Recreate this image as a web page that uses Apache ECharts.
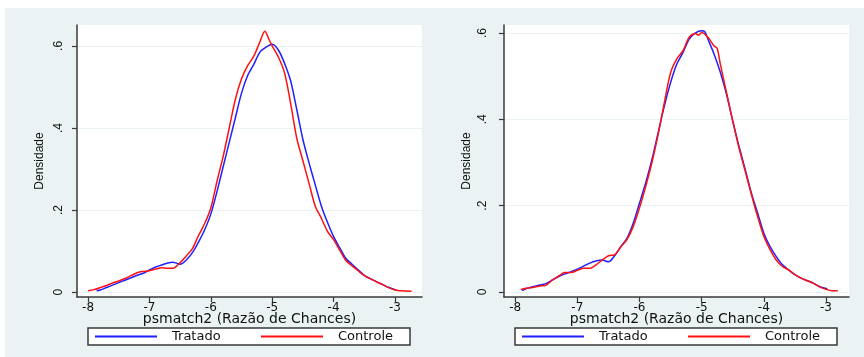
<!DOCTYPE html>
<html>
<head>
<meta charset="utf-8">
<script src="https://cdn.jsdelivr.net/npm/echarts@6/dist/echarts.min.js"></script>
<style>
html,body{margin:0;padding:0;background:#fff;}
#grafico{width:864px;height:357px;}
</style>
</head>
<body>
<div id="grafico"></div>
<script>
// densidade kernel - antes do pareamento (esquerda) e depois (direita)
var tratadoAntes = [[-7.86,0.003],[-7.8,0.005],[-7.7,0.011],[-7.6,0.017],[-7.5,0.023],[-7.4,0.029],[-7.3,0.035],[-7.2,0.041],[-7.1,0.046],[-7.0,0.054],[-6.9,0.061],[-6.8,0.066],[-6.7,0.071],[-6.62,0.073],[-6.55,0.07],[-6.5,0.068],[-6.4,0.078],[-6.3,0.096],[-6.2,0.122],[-6.1,0.152],[-6.0,0.19],[-5.9,0.245],[-5.8,0.305],[-5.7,0.365],[-5.6,0.425],[-5.5,0.485],[-5.4,0.528],[-5.3,0.555],[-5.2,0.585],[-5.1,0.597],[-5.0,0.604],[-4.9,0.59],[-4.8,0.558],[-4.7,0.515],[-4.6,0.445],[-4.5,0.372],[-4.4,0.315],[-4.3,0.262],[-4.2,0.21],[-4.1,0.17],[-4.0,0.135],[-3.9,0.108],[-3.8,0.082],[-3.7,0.068],[-3.6,0.054],[-3.5,0.041],[-3.4,0.033],[-3.3,0.025],[-3.2,0.018],[-3.1,0.011],[-3.0,0.006],[-2.97,0.004]];
var controleAntes = [[-8.0,0.003],[-7.9,0.006],[-7.8,0.011],[-7.7,0.016],[-7.6,0.022],[-7.5,0.027],[-7.4,0.033],[-7.3,0.04],[-7.2,0.047],[-7.12,0.05],[-7.0,0.052],[-6.9,0.056],[-6.8,0.059],[-6.7,0.058],[-6.62,0.058],[-6.5,0.072],[-6.4,0.088],[-6.3,0.106],[-6.2,0.138],[-6.1,0.167],[-6.0,0.205],[-5.9,0.27],[-5.8,0.33],[-5.7,0.40],[-5.6,0.47],[-5.5,0.52],[-5.4,0.552],[-5.3,0.575],[-5.2,0.61],[-5.12,0.636],[-5.05,0.615],[-5.0,0.6],[-4.9,0.573],[-4.8,0.535],[-4.7,0.46],[-4.6,0.375],[-4.5,0.32],[-4.4,0.265],[-4.3,0.21],[-4.2,0.18],[-4.1,0.148],[-4.0,0.128],[-3.9,0.102],[-3.8,0.077],[-3.7,0.064],[-3.6,0.052],[-3.5,0.04],[-3.4,0.032],[-3.3,0.025],[-3.2,0.018],[-3.1,0.011],[-3.0,0.005],[-2.9,0.003],[-2.73,0.002]];
var tratadoDepois = [[-7.89,0.003],[-7.8,0.009],[-7.7,0.013],[-7.6,0.016],[-7.5,0.02],[-7.4,0.028],[-7.3,0.036],[-7.2,0.042],[-7.1,0.047],[-7.0,0.053],[-6.9,0.06],[-6.8,0.067],[-6.7,0.072],[-6.6,0.074],[-6.5,0.07],[-6.4,0.084],[-6.3,0.105],[-6.2,0.125],[-6.1,0.16],[-6.0,0.206],[-5.9,0.253],[-5.8,0.307],[-5.7,0.369],[-5.6,0.431],[-5.5,0.485],[-5.4,0.528],[-5.3,0.555],[-5.2,0.586],[-5.1,0.6],[-5.0,0.605],[-4.95,0.603],[-4.9,0.586],[-4.8,0.551],[-4.7,0.509],[-4.6,0.458],[-4.5,0.396],[-4.4,0.338],[-4.3,0.284],[-4.2,0.229],[-4.1,0.183],[-4.0,0.136],[-3.9,0.105],[-3.8,0.082],[-3.7,0.063],[-3.6,0.051],[-3.5,0.04],[-3.4,0.032],[-3.3,0.026],[-3.2,0.02],[-3.1,0.012],[-3.0,0.008],[-2.98,0.006]];
var controleDepois = [[-7.91,0.006],[-7.8,0.009],[-7.7,0.011],[-7.6,0.014],[-7.5,0.016],[-7.4,0.028],[-7.3,0.037],[-7.2,0.045],[-7.1,0.045],[-7.0,0.05],[-6.9,0.055],[-6.8,0.055],[-6.7,0.063],[-6.6,0.074],[-6.5,0.084],[-6.4,0.086],[-6.3,0.105],[-6.2,0.122],[-6.1,0.152],[-6.0,0.195],[-5.9,0.245],[-5.8,0.3],[-5.7,0.365],[-5.6,0.439],[-5.5,0.508],[-5.4,0.54],[-5.3,0.559],[-5.2,0.59],[-5.1,0.599],[-5.05,0.595],[-5.0,0.601],[-4.9,0.59],[-4.8,0.57],[-4.75,0.564],[-4.7,0.528],[-4.6,0.462],[-4.5,0.396],[-4.4,0.334],[-4.3,0.28],[-4.2,0.226],[-4.1,0.175],[-4.0,0.129],[-3.9,0.098],[-3.8,0.074],[-3.7,0.059],[-3.6,0.051],[-3.5,0.04],[-3.4,0.032],[-3.3,0.026],[-3.2,0.02],[-3.1,0.012],[-3.0,0.006],[-2.9,0.003],[-2.81,0.003]];

var ticksX = [-8,-7,-6,-5,-4,-3];
var ticksY = [0,0.2,0.4,0.6];
var nomes = ['Tratado','Controle'];

var myChart;
window.onresize=function () {
	if(myChart){ myChart.resize(); }
};

function eixoX(idx, min, max){
	return {
		type:'value', gridIndex:idx, min:min, max:max,
		name:'psmatch2 (Razão de Chances)', nameLocation:'middle', nameGap:15, nameMoveOverlap:false,
		nameTextStyle:{fontFamily:'DejaVu Sans',fontSize:14,color:'#111',verticalAlign:'top'},
		axisLine:{onZero:false,lineStyle:{color:'#3a3a3a',width:1.5}},
		axisTick:{customValues:ticksX,length:5,lineStyle:{color:'#3a3a3a',width:1.2}},
		axisLabel:{customValues:ticksX,margin:5,fontFamily:'DejaVu Sans',fontSize:12,color:'#111'},
		splitLine:{show:false}
	};
}
function eixoY(idx, min, max, margem){
	return {
		type:'value', gridIndex:idx, min:min, max:max, splitNumber:3,
		name:'Densidade', nameLocation:'middle', nameRotate:90, nameGap:31, nameMoveOverlap:false,
		nameTextStyle:{fontFamily:'Liberation Sans',fontSize:12,color:'#111'},
		axisLine:{onZero:false,lineStyle:{color:'#3a3a3a',width:1.5}},
		axisTick:{customValues:ticksY,length:5,lineStyle:{color:'#3a3a3a',width:1.2}},
		axisLabel:{customValues:ticksY,rotate:90,margin:margem,fontFamily:'Liberation Sans',fontSize:12,color:'#111',
			formatter:function(v){ return v===0?'0':String(v).replace('0.','.'); }},
		splitLine:{show:true,lineStyle:{color:'#eaf2f3',width:1}}
	};
}
function legenda(left){
	return {
		data:nomes, left:left, top:328, orient:'horizontal',
		icon:'rect', itemWidth:62, itemHeight:2, itemGap:27,
		padding:[2,10,2,7], backgroundColor:'#fff', borderColor:'#3a3a3a', borderWidth:1.5, borderRadius:0,
		selectedMode:false,
		textStyle:{fontFamily:'DejaVu Sans',fontSize:13,color:'#111',width:62,lineHeight:13,padding:[0,0,0,10]}
	};
}
function serie(nome, cor, dados, idx){
	return {
		name:nome, type:'line', xAxisIndex:idx, yAxisIndex:idx, data:dados,
		smooth:0.3, showSymbol:false, silent:true,
		lineStyle:{color:cor,width:1.5}, itemStyle:{color:cor}
	};
}

function grafico(){
	var option = {
		animation:false,
		graphic:[{type:'rect',z:-10,silent:true,shape:{x:5,y:8,width:859,height:349},style:{fill:'#eaf2f3'}}],
		grid:[
			{left:77,right:442,top:25,bottom:60,show:true,backgroundColor:'#fff',borderWidth:0},
			{left:504,right:15,top:25,bottom:60,show:true,backgroundColor:'#fff',borderWidth:0}
		],
		xAxis:[eixoX(0,-8.18,-2.56), eixoX(1,-8.18,-2.63)],
		yAxis:[eixoY(0,-0.012,0.651,12), eixoY(1,-0.0116,0.6185,15)],
		legend:[legenda(88), legenda(515)],
		series:[
			serie('Tratado','#1f1fff',tratadoAntes,0),
			serie('Controle','#ff1010',controleAntes,0),
			serie('Tratado','#1f1fff',tratadoDepois,1),
			serie('Controle','#ff1010',controleDepois,1)
		]
	};
	myChart = echarts.init(document.getElementById('grafico'));
	myChart.setOption(option);
}
grafico();
</script>
</body>
</html>
